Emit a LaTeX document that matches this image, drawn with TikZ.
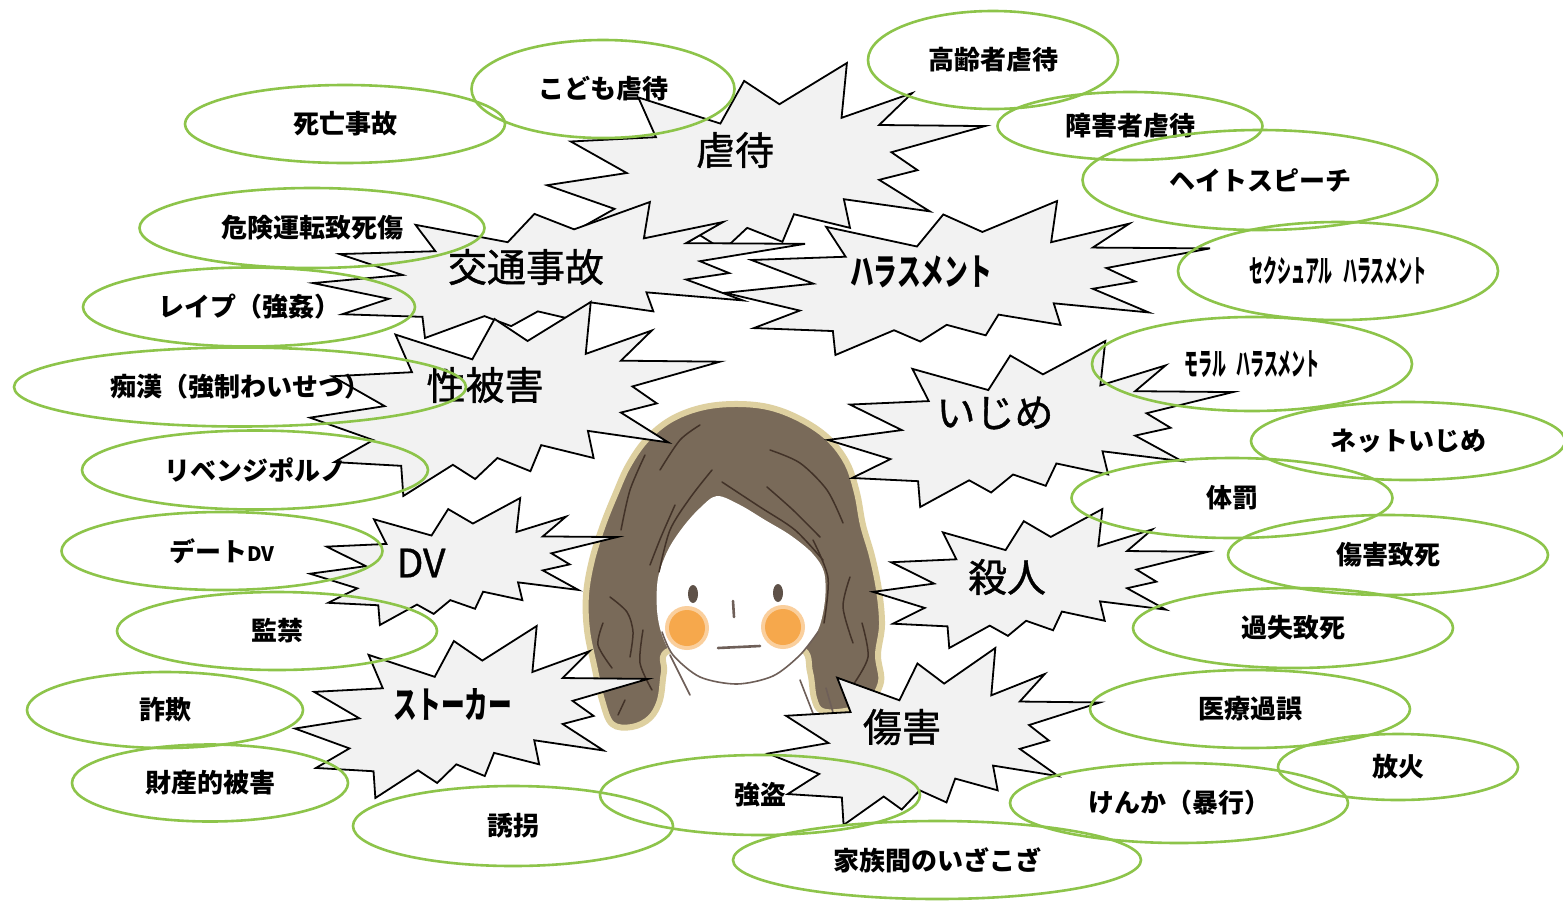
\documentclass[tikz,border=0pt]{standalone}
\usepackage{fontspec}
\setmainfont{Noto Sans CJK JP}
\newfontfamily\burstjp[FakeBold=1]{Noto Sans CJK JP}
\newfontfamily\narrowjp[FakeStretch=0.64]{Noto Sans CJK JP}
\newfontfamily\narrowjpthin[FakeStretch=0.45]{Noto Sans CJK JP}
\usetikzlibrary{shapes.geometric}

\definecolor{leafgreen}{RGB}{141,196,74}
\definecolor{burstgray}{RGB}{242,242,242}
\definecolor{hairbrown}{RGB}{121,106,89}
\definecolor{hairedge}{RGB}{222,208,160}
\definecolor{strand}{RGB}{66,50,40}
\definecolor{cheek}{RGB}{246,168,76}
\definecolor{featuregray}{RGB}{110,95,88}

\tikzset{
  bubble/.style={ellipse, draw=leafgreen, line width=2.6pt, inner sep=0pt,
    font=\bfseries\fontsize{26}{30}\selectfont},
  narrowbubble/.style={bubble, font=\narrowjpthin\bfseries\fontsize{31}{34}\selectfont},
  burstshape/.style={draw=black, fill=burstgray, line width=1.8pt},
  burstlabel/.style={font=\burstjp\fontsize{39}{44}\selectfont, inner sep=0pt},
  narrowlabel/.style={font=\narrowjp\bfseries\fontsize{37}{42}\selectfont, inner sep=0pt},
  hairline/.style={draw=strand, line width=1.5pt, line cap=round},
}

% Explosion outline fitted into the box at (x,y) with width w and height h
\newcommand\explosion[4]{%
  \begin{scope}[shift={(#1,#2)}, xscale=#3/216, yscale=#4/216]
    \path[burstshape] (114.62,43.42) -- (147.90,0) -- (145.25,57.77) -- (180.07,31.72)
      -- (163.80,65.32) -- (216,66.45) -- (169.85,94.02) -- (182.70,112.90)
      -- (163.80,123.10) -- (188.77,156.32) -- (146.40,143.50) -- (149.42,173.70)
      -- (121.80,159.35) -- (116.12,188.42) -- (98.72,173.70) -- (87.00,197.12)
      -- (75.27,181.25) -- (49.17,216) -- (48.05,182.40) -- (12.85,178.25)
      -- (33.30,153.70) -- (0,128.77) -- (39.35,115.92) -- (11.72,82.70)
      -- (53.72,78.17) -- (45.02,36.25) -- (85.50,63.82) -- (97.22,18.87) -- cycle;
  \end{scope}}

\begin{document}
\begin{tikzpicture}[x=1pt,y=-1pt]
\useasboundingbox (0,0) rectangle (1563,900);
\fill[white] (0,0) rectangle (1563,900);

% ---- the girl's head ----
\draw[draw=hairedge, line width=6pt, line join=round, fill=hairbrown]
  plot[smooth cycle, tension=0.6] coordinates {
  (733,404) (768,407) (800,419) (828,438) (847,463) (857,493) (863,525)
  (872,556) (879,590) (882,625) (878,655) (881,682) (868,703) (845,711)
  (822,711) (814,698) (810,672) (800,648) (740,640) (670,650) (664,672)
  (660,700) (650,718) (632,727) (612,724) (602,700) (594,665) (587,630)
  (586,595) (592,560) (603,525) (615,495) (628,466) (646,440) (670,420) (700,408)};
% face
\fill[white] plot[smooth cycle, tension=0.55] coordinates {
  (717,496) (700,508) (683,527) (668,550) (658,578) (657,610) (662,635)
  (673,655) (700,677) (737,684) (773,676) (800,655) (818,630) (825,600)
  (824,572) (812,553) (790,535) (765,520) (740,505)};
% strands
\draw[hairline] plot[smooth] coordinates {(712,470) (690,498) (670,530) (659,572)};
\draw[hairline] plot[smooth] coordinates {(722,482) (760,507) (795,530) (823,560)};
\draw[hairline] plot[smooth] coordinates {(770,450) (800,463) (827,490) (843,523)};
\draw[hairline] plot[smooth] coordinates {(767,487) (793,510) (820,537)};
\draw[hairline] plot[smooth] coordinates {(645,455) (630,490) (621,530)};
\draw[hairline] plot[smooth] coordinates {(675,505) (661,537) (650,565)};
\draw[hairline] plot[smooth] coordinates {(610,597) (627,612) (633,632) (630,657)};
\draw[hairline] plot[smooth] coordinates {(603,623) (598,645) (612,668)};
\draw[hairline] plot[smooth] coordinates {(643,630) (640,663) (652,690)};
\draw[hairline] plot[smooth] coordinates {(850,577) (843,607) (853,643)};
\draw[hairline] plot[smooth] coordinates {(813,540) (828,578) (824,623)};
\draw[hairline] plot[smooth] coordinates {(862,623) (868,657) (853,685)};
\draw[hairline] plot[smooth] coordinates {(700,425) (680,440) (660,470)};
\draw[hairline] plot[smooth] coordinates {(625,700) (618,715)};
% chin and strands below it
\draw[draw=featuregray, line width=1.6pt, line cap=round]
  plot[smooth] coordinates {(662,632) (673,655) (700,677) (737,684) (773,676) (800,655) (818,632)};
\draw[draw=featuregray, line width=1.6pt, line cap=round] (670,655) -- (690,695);
\draw[draw=featuregray, line width=1.6pt, line cap=round] (800,680) -- (814,716);
\draw[draw=featuregray, line width=1.6pt, line cap=round] (826,688) -- (834,716);
% cheeks
\fill[cheek!55!white] (687,628) circle (22);
\fill[cheek] (687,628) circle (18);
\fill[cheek!55!white] (783,627) circle (22);
\fill[cheek] (783,627) circle (18);
% eyes, nose, mouth
\fill[strand!85!white] (693,594) ellipse (5 and 9);
\fill[strand!85!white] (778,593) ellipse (5 and 9);
\draw[featuregray, line width=2.6pt, line cap=round] (733,601) -- (734,617);
\draw[featuregray, line width=2.6pt, line cap=round] (718,648) -- (760,646);

% ---- explosions ----
\explosion{547}{63}{438}{205}
\node[burstlabel] (gyakutai) at (735,150) {虐待};
\explosion{725}{201}{485}{154}
\node[narrowlabel] (harassment) at (921,272) {ハラスメント};
\explosion{313}{202}{492}{136}
\node[burstlabel] (koutsuu) at (526,267) {交通事故};
\explosion{310}{302}{410}{194}
\node[burstlabel] (seihigai) at (485,385) {性被害};
\explosion{828}{341}{405}{166}
\node[burstlabel] (ijime) at (995,413) {いじめ};
\explosion{310}{498}{307}{127}
\node[burstlabel] (dv) at (421,563) {DV};
\explosion{873}{509}{335}{139}
\node[burstlabel] (satsujin) at (1007,577) {殺人};
\explosion{295}{626}{353}{172}
\node[narrowlabel] (stalker) at (453,705) {ストーカー};
\explosion{768}{648}{332}{177}
\node[burstlabel] (shougai) at (902,727) {傷害};

% ---- green ellipses ----
\node[bubble, minimum width=263pt, minimum height=98pt] (kodomo) at (603,89) {こども虐待};
\node[bubble, minimum width=250pt, minimum height=98pt] (koureisha) at (993,60) {高齢者虐待};
\node[bubble, minimum width=320pt, minimum height=78pt] (shibou) at (345,124) {死亡事故};
\node[bubble, minimum width=265pt, minimum height=68pt] (shougaisha) at (1130,126) {障害者虐待};
\node[bubble, minimum width=355pt, minimum height=100pt] (hate) at (1260,180) {ヘイトスピーチ};
\node[bubble, minimum width=345pt, minimum height=80pt] (kiken) at (312,228) {危険運転致死傷};
\node[narrowbubble, minimum width=320pt, minimum height=98pt] (sekuhara) at (1338,271) {セクシュアル\,\,ハラスメント};
\node[bubble, minimum width=332pt, minimum height=79pt] (rape) at (249,307) {レイプ（強姦）};
\node[narrowbubble, minimum width=320pt, minimum height=94pt] (morahara) at (1252,364) {モラル\,\,ハラスメント};
\node[bubble, minimum width=452pt, minimum height=79pt] (chikan) at (240,387) {痴漢（強制わいせつ）};
\node[bubble, minimum width=314pt, minimum height=78pt] (netijime) at (1408,441) {ネットいじめ};
\node[bubble, minimum width=346pt, minimum height=79pt] (revenge) at (255,470) {リベンジポルノ};
\node[bubble, minimum width=321pt, minimum height=80pt] (taibatsu) at (1232,498) {体罰};
\node[bubble, minimum width=321pt, minimum height=78pt] (datedv) at (222,551) {デート{\fontsize{20}{24}\selectfont DV}};
\node[bubble, minimum width=320pt, minimum height=80pt] (shougaichishi) at (1388,555) {傷害致死};
\node[bubble, minimum width=320pt, minimum height=78pt] (kankin) at (277,631) {監禁};
\node[bubble, minimum width=320pt, minimum height=80pt] (kashitsu) at (1293,628) {過失致死};
\node[bubble, minimum width=276pt, minimum height=76pt] (sagi) at (165,710) {詐欺};
\node[bubble, minimum width=320pt, minimum height=78pt] (iryou) at (1250,709) {医療過誤};
\node[bubble, minimum width=276pt, minimum height=77pt] (zaisan) at (210,783) {財産的被害};
\node[bubble, minimum width=240pt, minimum height=66pt] (houka) at (1398,767) {放火};
\node[bubble, minimum width=320pt, minimum height=80pt] (goutou) at (760,795) {強盗};
\node[bubble, minimum width=338pt, minimum height=80pt] (kenka) at (1179,803) {けんか（暴行）};
\node[bubble, minimum width=320pt, minimum height=80pt] (yuukai) at (513,826) {誘拐};
\node[bubble, minimum width=408pt, minimum height=78pt] (kazoku) at (937,860) {家族間のいざこざ};
\end{tikzpicture}
\end{document}
